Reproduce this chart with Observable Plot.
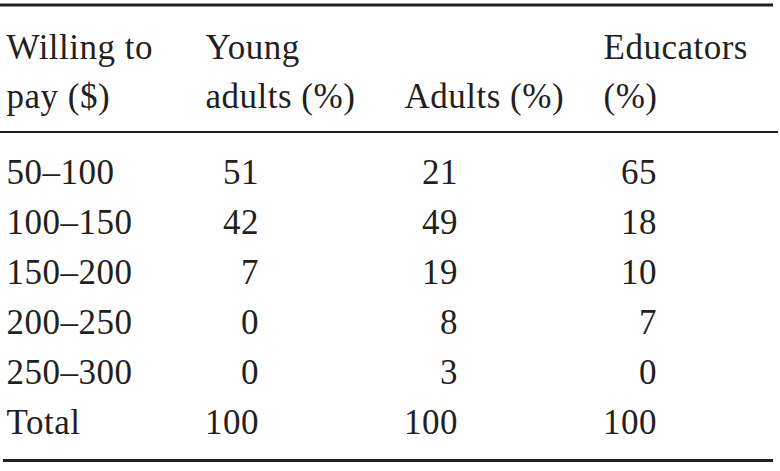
<!DOCTYPE html>
<html>
<head>
<meta charset="utf-8">
<script src="https://cdn.jsdelivr.net/npm/d3@7"></script>
<script src="https://cdn.jsdelivr.net/npm/@observablehq/plot@0.6"></script>
<style>
  html, body { margin: 0; padding: 0; background: #fff; }
  #chart svg { display: block; }
</style>
</head>
<body>
<div id="chart"></div>
<script>
// Column keys and header labels (two lines each)
const columns = ["price", "young", "adults", "educators"];
const headerLabels = ["Willing to\npay ($)", "Young\nadults (%)", "\nAdults (%)", "Educators\n(%)"];

// Row categories
const categories = ["50–100", "100–150", "150–200", "200–250", "250–300", "Total"];

// Series values (%)
const youngAdults = [51, 42, 7, 0, 0, 100];
const adults = [21, 49, 19, 8, 3, 100];
const educators = [65, 18, 10, 7, 0, 100];

const series = [["young", youngAdults], ["adults", adults], ["educators", educators]];
const cells = series.flatMap(([col, vals]) => vals.map((v, i) => ({col, row: categories[i], value: v})));
const headers = columns.map((c, i) => ({col: c, label: headerLabels[i]}));
const rows = categories.map(c => ({col: "price", row: c}));

const ink = "#231f20";
const font = "Liberation Serif";
const fs = 35;

const chart = Plot.plot({
  width: 780,
  height: 471,
  margin: 0,
  style: {fontFamily: font, color: ink, background: "#fff", letterSpacing: "0.5px"},
  x: {type: "point", domain: columns, range: [5, 603], padding: 0, axis: null},
  y: {type: "point", domain: categories, range: [183, 433], padding: 0, axis: null},
  marks: [
    // rules
    Plot.ruleY([categories[0]], {dy: -178.5, stroke: ink, strokeWidth: 3.2, insetRight: 7}),
    Plot.ruleY([categories[0]], {dy: -51.5, stroke: ink, strokeWidth: 2.2, insetRight: 2}),
    Plot.ruleY([categories[categories.length - 1]], {dy: 27, stroke: ink, strokeWidth: 3.2, insetLeft: 3, insetRight: 7}),
    // header
    Plot.text(headers, {x: "col", y: () => categories[0], text: "label", dy: -76, lineAnchor: "bottom", lineHeight: 1.4, textAnchor: "start", fontSize: fs, fill: ink}),
    // row labels
    Plot.text(rows, {x: "col", y: "row", text: "row", lineAnchor: "bottom", textAnchor: "start", fontSize: fs, fill: ink}),
    // values
    Plot.text(cells, {x: "col", y: "row", text: d => String(d.value), dx: 53.5, lineAnchor: "bottom", textAnchor: "end", fontSize: fs, fill: ink})
  ]
});
document.getElementById("chart").appendChild(chart);
</script>
</body>
</html>
